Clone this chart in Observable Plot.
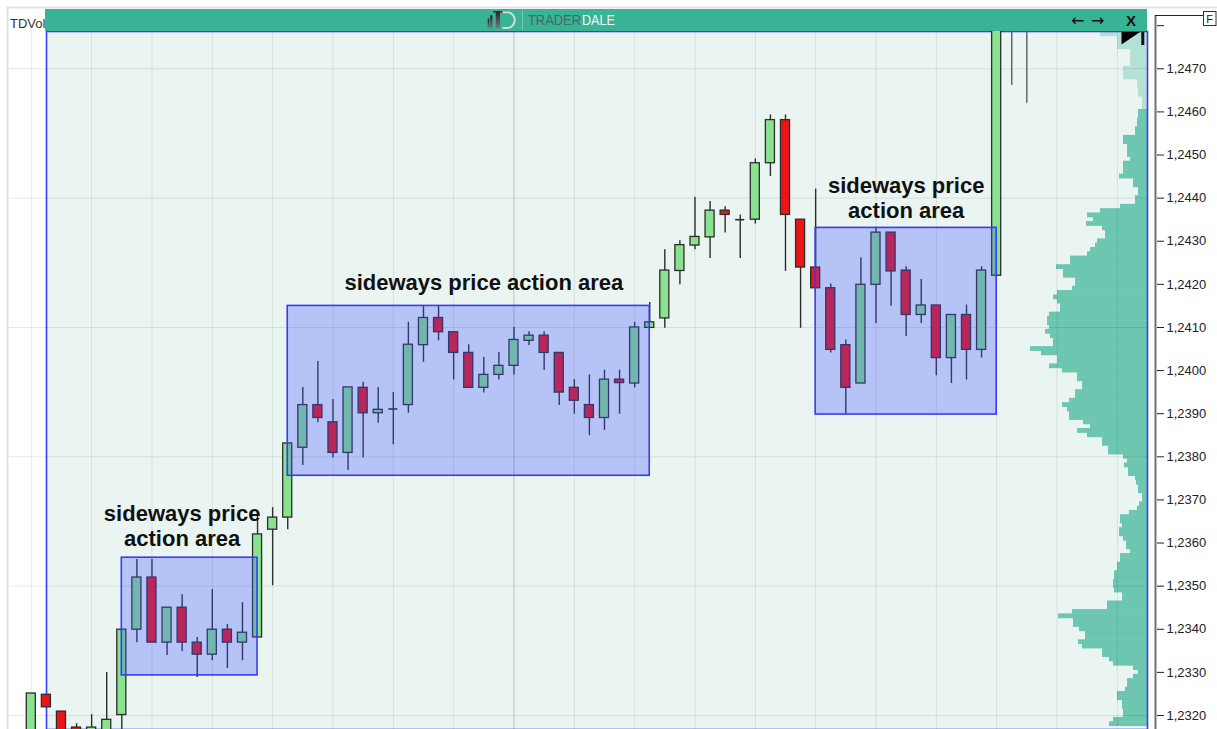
<!DOCTYPE html>
<html><head><meta charset="utf-8">
<script src="https://cdn.jsdelivr.net/npm/d3@7"></script>
<script src="https://cdn.jsdelivr.net/npm/@observablehq/plot@0.6"></script>
<style>
html,body{margin:0;padding:0;background:#fff;}
#wrap{position:relative;width:1217px;height:729px;overflow:hidden;background:#fff;}
#wrap > svg{position:absolute;left:0;top:0;}
</style></head><body><div id="wrap"></div>
<script>
// ---- candle data (index = bar number, prices) ----
const candleIndex = [0,1,2,3,4,5,6,7,8,9,10,11,12,13,14,15,16,17,18,19,20,21,22,23,24,25,26,27,28,29,30,31,32,33,34,35,36,37,38,39,40,41,42,43,44,45,46,47,48,49,50,51,52,53,54,55,56,57,58,59,60,61,62,63,64,65,66];
const opens  = [1.23140,1.23248,1.23209,1.23172,1.23140,1.23140,1.23201,1.23399,1.23520,1.23369,1.23450,1.23369,1.23341,1.23399,1.23369,1.23381,1.23631,1.23659,1.23821,1.23920,1.23880,1.23809,1.23960,1.23901,1.23911,1.23920,1.24059,1.24122,1.24089,1.24041,1.23960,1.23990,1.24011,1.24069,1.24081,1.24041,1.23960,1.23920,1.23890,1.23979,1.23970,1.24099,1.24121,1.24231,1.24290,1.24309,1.24371,1.24350,1.24350,1.24481,1.24581,1.24350,1.24239,1.24191,1.24059,1.23970,1.24199,1.24320,1.24232,1.24129,1.24151,1.24029,1.24129,1.24048,1.24220,1.24850,1.24850];
const highs  = [1.23251,1.23248,1.23209,1.23181,1.23202,1.23300,1.23399,1.23562,1.23562,1.23450,1.23480,1.23381,1.23492,1.23411,1.23462,1.23668,1.23682,1.23831,1.23961,1.24021,1.23933,1.23961,1.23973,1.23961,1.23949,1.24112,1.24149,1.24149,1.24089,1.24060,1.24031,1.24042,1.24100,1.24090,1.24090,1.24041,1.23979,1.23990,1.24001,1.24001,1.24112,1.24158,1.24280,1.24301,1.24402,1.24392,1.24380,1.24361,1.24491,1.24593,1.24593,1.24350,1.24421,1.24201,1.24071,1.24262,1.24331,1.24320,1.24241,1.24211,1.24151,1.24129,1.24152,1.24241,1.24830,1.24950,1.24950];
const lows   = [1.23130,1.23219,1.23130,1.23130,1.23130,1.23130,1.23140,1.23369,1.23369,1.23339,1.23348,1.23288,1.23327,1.23309,1.23327,1.23381,1.23501,1.23631,1.23780,1.23879,1.23797,1.23768,1.23797,1.23878,1.23828,1.23901,1.24019,1.24069,1.23978,1.23960,1.23948,1.23978,1.23990,1.24058,1.24000,1.23919,1.23899,1.23849,1.23861,1.23899,1.23960,1.24099,1.24098,1.24199,1.24280,1.24260,1.24319,1.24260,1.24340,1.24450,1.24230,1.24098,1.24191,1.24041,1.23899,1.23970,1.24109,1.24149,1.24079,1.24109,1.23988,1.23970,1.23978,1.24029,1.24220,1.24661,1.24620];
const closes = [1.23251,1.23219,1.23140,1.23140,1.23172,1.23190,1.23399,1.23520,1.23369,1.23450,1.23369,1.23341,1.23399,1.23369,1.23392,1.23620,1.23659,1.23831,1.23920,1.23890,1.23809,1.23961,1.23901,1.23909,1.23911,1.24060,1.24122,1.24089,1.24041,1.23960,1.23990,1.24011,1.24071,1.24081,1.24041,1.23949,1.23930,1.23890,1.23979,1.23971,1.24100,1.24112,1.24232,1.24291,1.24310,1.24371,1.24361,1.24350,1.24481,1.24581,1.24361,1.24239,1.24191,1.24048,1.23960,1.24199,1.24320,1.24230,1.24129,1.24151,1.24029,1.24129,1.24048,1.24232,1.24820,1.24900,1.24900];

// ---- volume profile (TDVol), one value per 0.0001 level from the top level downwards ----
const profileTopLevel = 1.2478;
const profileStep = 0.0001;
const profileLightFrom = 1.2461;
const profileVolume = [
  47,30,30,30,17,17,17,17,24,24,24,10,10,9,9,5,5,5,
  9,9,10,10,12,12,24,24,20,20,20,17,24,24,24,28,14,14,9,9,12,12,
  27,47,60,54,61,45,42,42,50,52,57,60,77,77,91,84,84,72,72,75,
  90,94,90,87,87,98,100,100,98,102,97,94,94,117,106,90,90,98,85,70,
  70,65,65,72,72,78,85,80,78,78,64,57,70,60,45,45,39,39,24,20,
  23,19,19,12,11,9,9,5,5,8,10,18,27,27,25,28,28,24,21,21,
  17,27,27,30,30,33,33,34,34,33,25,25,40,40,75,89,74,74,68,62,
  62,69,65,45,45,38,34,14,9,14,20,20,22,30,30,25,25,24,24,34,38
];

// ---- annotated areas ----
const boxStart = [6, 17, 52];
const boxEnd   = [15, 41, 64];
const boxHigh  = [1.23566, 1.24150, 1.24331];
const boxLow   = [1.23293, 1.23756, 1.23898];
const labelX   = [10, 30, 58];
const labelY   = [1.23592, 1.24186, 1.24354];
const labelText = ["sideways price\naction area", "sideways price action area", "sideways price\naction area"];

// ---- axes / grid ----
const priceTicks = [1.2320,1.2330,1.2340,1.2350,1.2360,1.2370,1.2380,1.2390,1.2400,1.2410,1.2420,1.2430,1.2440,1.2450,1.2460,1.2470,1.2480];
const gridPrices = [1.2320,1.2350,1.2380,1.2410,1.2440,1.2470];
const gridIndex = [0,4,8,12,16,20,24,28,36,40,44,48,52,56,60,64,68,72];
const sessionIndex = [32];

const candles = candleIndex.map((i, k) => ({i, open: opens[k], high: highs[k], low: lows[k], close: closes[k]}));
const profile = profileVolume.map((v, k) => ({price: +(profileTopLevel - k * profileStep).toFixed(4), vol: v}));
const boxes = boxStart.map((s, k) => ({start: s, end: boxEnd[k], high: boxHigh[k], low: boxLow[k]}));
const labels = labelX.map((x, k) => ({x, y: labelY[k], text: labelText[k]}));

const W = 1217, H = 729;
const yDomain = [1.231675, 1.247865];
const font = "'Liberation Sans', Arial, sans-serif";
const common = {width: W, height: H, marginTop: 31, marginBottom: 0, marginRight: 70};
const half = 0.3;
const rowHalf = profileStep * 0.56; // slight overlap so rows join without gaps

const profilePlot = Plot.plot({
  ...common, marginLeft: 46,
  x: {domain: [1101, 0], axis: null},
  y: {domain: yDomain, axis: null},
  style: {background: "transparent"},
  marks: [
    Plot.frame({fill: "#EAF5F2", stroke: null}),
    Plot.rect(profile, {
      x1: () => 0, x2: "vol",
      y1: d => d.price - rowHalf, y2: d => d.price + rowHalf,
      fill: d => d.price >= profileLightFrom ? "#B4E1D5" : "#6CC6B0", clip: true
    }),
    Plot.frame({stroke: "#3C3CF4", strokeWidth: 1.6})
  ]
});

const candlePlot = Plot.plot({
  ...common, marginLeft: 7,
  x: {domain: [-1.578, 74.0], axis: null},
  y: {domain: yDomain},
  style: {background: "transparent", fontFamily: font},
  marks: [
    Plot.ruleX(gridIndex, {x: d => d, stroke: "#000", strokeOpacity: 0.09}),
    Plot.ruleY(gridPrices, {y: d => d, stroke: "#000", strokeOpacity: 0.09}),
    Plot.ruleX(sessionIndex, {x: d => d, stroke: "#000", strokeOpacity: 0.22}),
    Plot.ruleX(candles, {x: "i", y1: "low", y2: "high", stroke: d => d.i > 64 ? "#5e5e5e" : "#2d2d2d", strokeWidth: 1.4, clip: true}),
    Plot.rect(candles.filter(d => d.open !== d.close), {
      x1: d => d.i - half, x2: d => d.i + half, y1: "open", y2: "close",
      fill: d => d.close > d.open ? "#89E28E" : "#EC1515",
      stroke: "#2d2d2d", strokeWidth: 1.3, clip: true
    }),
    Plot.ruleY(candles.filter(d => d.open === d.close), {x1: d => d.i - half, x2: d => d.i + half, y: "open", stroke: "#2d2d2d", strokeWidth: 1.6}),
    Plot.rect(boxes, {x1: "start", x2: "end", y1: "low", y2: "high", fill: "#4050FF", fillOpacity: 0.3, stroke: "#3A3AF6", strokeWidth: 1.6}),
    Plot.text(labels, {x: "x", y: "y", text: "text", lineAnchor: "bottom", lineHeight: 1.14, fontSize: 22, fontWeight: "bold", fill: "#111"}),
    Plot.axisY(priceTicks, {
      anchor: "right", tickSize: 7, dx: 9, label: null, fontSize: 13, color: "#222",
      tickFormat: d => d > 1.2475 ? "" : d3.format(".4f")(d).replace(".", ",")
    })
  ]
});

const chrome = `
<svg xmlns="http://www.w3.org/2000/svg" width="1217" height="729" font-family="${font}" style="pointer-events:none">
  <defs>
    <linearGradient id="bars" x1="0" y1="0" x2="0" y2="1">
      <stop offset="0" stop-color="#222"/><stop offset="1" stop-color="#777"/>
    </linearGradient>
  </defs>
  <line x1="7" y1="7.5" x2="1217" y2="7.5" stroke="#E3E3E3" stroke-width="2"/>
  <line x1="7.5" y1="7" x2="7.5" y2="729" stroke="#E3E3E3" stroke-width="2"/>
  <text x="10" y="27.5" font-size="13" fill="#333">TDVol</text>
  <rect x="45" y="9" width="1102" height="22" fill="#38B395"/>
  <rect x="487.7" y="18.5" width="1.7" height="9.8" fill="url(#bars)"/>
  <rect x="490.2" y="15.3" width="2.2" height="13" fill="url(#bars)"/>
  <rect x="493.4" y="11" width="14.5" height="2.4" fill="url(#bars)"/>
  <rect x="495.8" y="11" width="4.2" height="17.3" fill="url(#bars)"/>
  <path d="M502.5,12.2 H508 A8,8 0 0 1 508,28 H502.5" fill="none" stroke="#DADADA" stroke-width="2"/>
  <line x1="522.5" y1="10" x2="522.5" y2="30" stroke="#ffffff" stroke-opacity="0.3"/>
  <text x="528" y="25.3" font-size="14" fill="#466A61" textLength="53" lengthAdjust="spacingAndGlyphs">TRADER</text>
  <text x="582" y="25.3" font-size="14" fill="#F2FAF7" textLength="33" lengthAdjust="spacingAndGlyphs">DALE</text>
  <text x="1071" y="26" font-size="16" font-family="DejaVu Sans" fill="#111">←</text>
  <text x="1091" y="26" font-size="16" font-family="DejaVu Sans" fill="#111">→</text>
  <text x="1131" y="26.3" font-size="15" font-weight="bold" text-anchor="middle" fill="#111">X</text>
  <polygon points="1121.5,32 1140,32 1121.5,44.5" fill="#000"/>
  <rect x="1141.3" y="32" width="3" height="13" fill="#111"/>
  <line x1="1155.5" y1="15" x2="1155.5" y2="729" stroke="#707070" stroke-width="2"/>
  <line x1="1155" y1="15.5" x2="1203" y2="15.5" stroke="#222"/>
  <rect x="1203.5" y="11.5" width="12.5" height="14" fill="#fff" stroke="#333"/>
  <text x="1209.7" y="23" font-size="11" text-anchor="middle" fill="#222">F</text>
</svg>`;

const wrap = document.getElementById("wrap");
wrap.appendChild(profilePlot);
wrap.appendChild(candlePlot);
wrap.insertAdjacentHTML("beforeend", chrome);
</script>
</body></html>
